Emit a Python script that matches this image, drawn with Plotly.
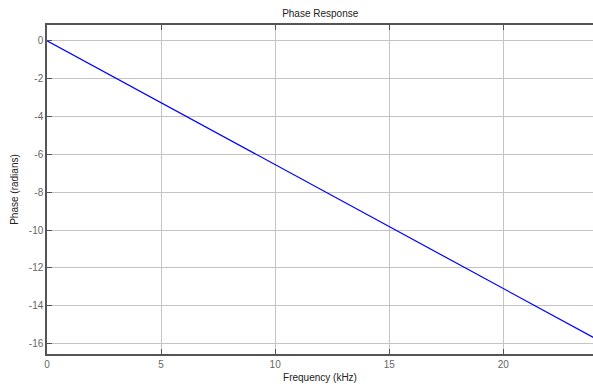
import plotly.graph_objects as go

freq_khz = [0, 2, 4, 6, 8, 10, 12, 14, 16, 18, 20, 22, 24]
phase_rad = [0, -1.31, -2.62, -3.93, -5.24, -6.54, -7.85, -9.16, -10.47, -11.78, -13.09, -14.40, -15.71]
x_ticks = [0, 5, 10, 15, 20]
y_ticks = [0, -2, -4, -6, -8, -10, -12, -14, -16]
y_tick_labels = ["0", "-2", "-4", "-6", "-8", "-10", "-12", "-14", "-16"]

fig = go.Figure()
fig.add_trace(go.Scatter(x=freq_khz, y=phase_rad, mode="lines",
                         line=dict(color="#0000ff", width=1.2), showlegend=False))

axis_common = dict(showline=True, linecolor="#555555", linewidth=1.5,
                   showgrid=True, gridcolor="#c4c4c4", gridwidth=1, zeroline=False,
                   ticks="inside", ticklen=5, tickcolor="#555555",
                   tickfont=dict(family="Liberation Sans, Arial", size=10, color="#666666"))

fig.update_layout(
    width=593, height=385,
    margin=dict(l=47, r=0, t=25, b=31),
    paper_bgcolor="white", plot_bgcolor="white",
    title=dict(text="Phase Response", x=0.54, xanchor="center", y=0.975, yanchor="top",
               font=dict(family="Liberation Sans, Arial", size=10, color="#222222")),
    xaxis=dict(range=[0, 23.93], tickvals=x_ticks, mirror="ticks",
               title=dict(text="Frequency (kHz)", standoff=5,
                          font=dict(family="Liberation Sans, Arial", size=10, color="#222222")),
               **axis_common),
    yaxis=dict(range=[-16.55, 0.83], tickvals=y_ticks, ticktext=y_tick_labels,
               title=dict(text="Phase (radians)", standoff=8,
                          font=dict(family="Liberation Sans, Arial", size=10, color="#222222")),
               **axis_common),
)

fig.write_html("out.html", config={"displayModeBar": False},
               post_script="document.body.style.margin='0';document.body.style.overflow='hidden';")
